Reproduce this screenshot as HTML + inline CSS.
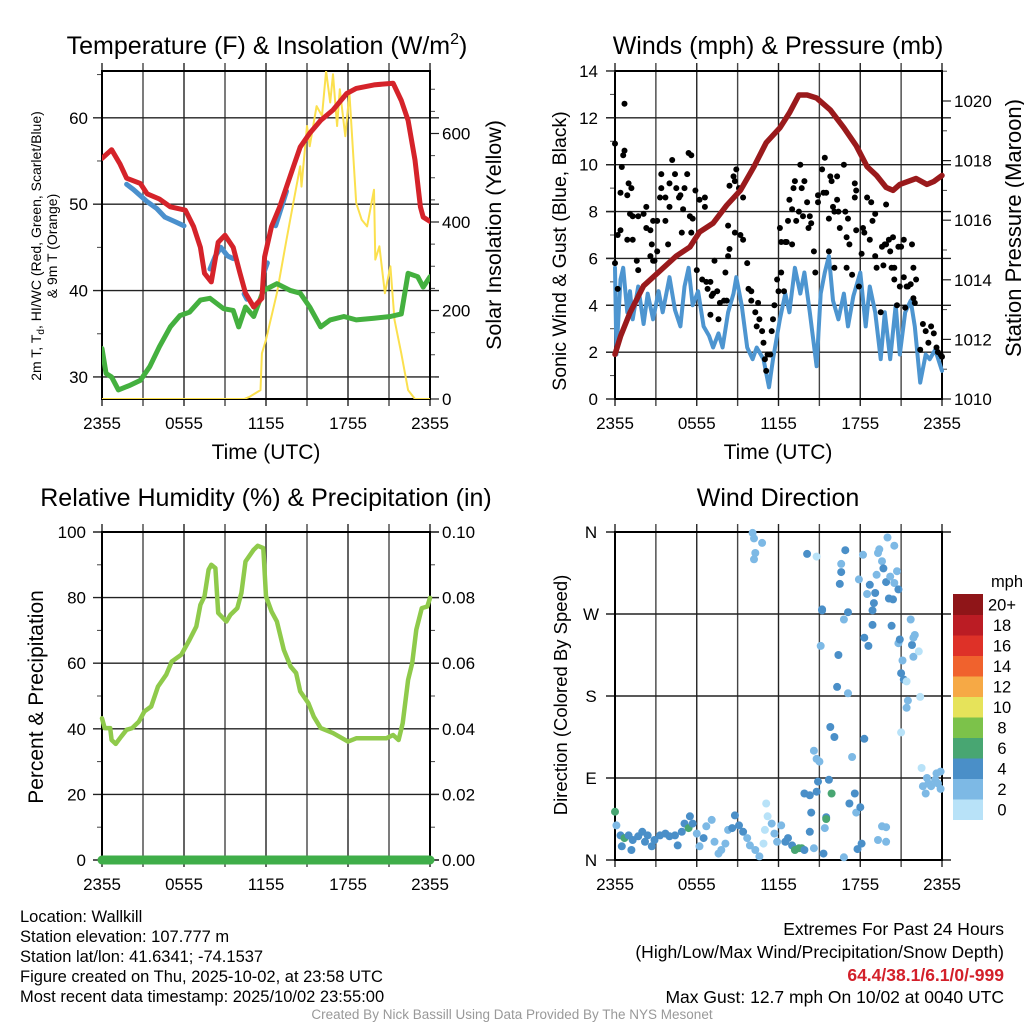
<!DOCTYPE html>
<html><head><meta charset="utf-8"><style>
html,body{margin:0;padding:0;background:#fff;}
svg{display:block;font-family:"Liberation Sans",sans-serif;}
</style></head><body>
<svg id="chart" width="1024" height="1024" viewBox="0 0 1024 1024" xmlns="http://www.w3.org/2000/svg">
<rect width="1024" height="1024" fill="#fff"/>
<g id="p1"></g>
<g id="p2"></g>
<g id="p3"></g>
<g id="p4"></g>
<text x="267" y="54" font-size="25" text-anchor="middle">Temperature (F) &amp; Insolation (W/m<tspan font-size="16" dy="-10">2</tspan><tspan dy="10">)</tspan></text>
<text x="778" y="54" font-size="25" text-anchor="middle">Winds (mph) &amp; Pressure (mb)</text>
<text x="266" y="506" font-size="25" text-anchor="middle">Relative Humidity (%) &amp; Precipitation (in)</text>
<text x="778" y="506" font-size="25" text-anchor="middle">Wind Direction</text>
<text x="266" y="459" font-size="21" text-anchor="middle">Time (UTC)</text>
<text x="778" y="459" font-size="21" text-anchor="middle">Time (UTC)</text>
<g transform="translate(41,246) rotate(-90)">
<text x="0" y="0" font-size="14" text-anchor="middle">2m T, T<tspan font-size="10" dy="3">d</tspan><tspan dy="-3">, HI/WC (Red, Green, Scarlet/Blue)</tspan></text>
<text x="0" y="16" font-size="14" text-anchor="middle">&amp; 9m T (Orange)</text></g>
<text transform="translate(501,235) rotate(-90)" font-size="21.5" text-anchor="middle">Solar Insolation (Yellow)</text>
<text transform="translate(566,251) rotate(-90)" font-size="19.5" text-anchor="middle">Sonic Wind &amp; Gust (Blue, Black)</text>
<text transform="translate(1021,228) rotate(-90)" font-size="22" text-anchor="middle">Station Pressure (Maroon)</text>
<text transform="translate(43,697) rotate(-90)" font-size="21" text-anchor="middle">Percent &amp; Precipitation</text>
<text transform="translate(567,695) rotate(-90)" font-size="18.5" text-anchor="middle">Direction (Colored By Speed)</text>
<g font-size="16.5">
<text x="20" y="922">Location: Wallkill</text>
<text x="20" y="942">Station elevation: 107.777 m</text>
<text x="20" y="962">Station lat/lon: 41.6341; -74.1537</text>
<text x="20" y="982">Figure created on Thu, 2025-10-02, at 23:58 UTC</text>
<text x="20" y="1002">Most recent data timestamp: 2025/10/02 23:55:00</text>
</g>
<g font-size="17.5" text-anchor="end">
<text x="1004" y="935">Extremes For Past 24 Hours</text>
<text x="1004" y="958">(High/Low/Max Wind/Precipitation/Snow Depth)</text>
<text x="1004" y="981" fill="#d3202a" font-weight="bold">64.4/38.1/6.1/0/-999</text>
<text x="1004" y="1003">Max Gust: 12.7 mph On 10/02 at 0040 UTC</text>
</g>
<text x="512" y="1019" font-size="13.5" fill="#999" text-anchor="middle">Created By Nick Bassill Using Data Provided By The NYS Mesonet</text>
</svg>
<script>
// ---------- data ----------
const xTickLabels = ["2355","0555","1155","1755","2355"];
const tempT = [0,0.7,1.3,1.8,2.8,3.3,4.2,5,6.1,6.7,7.2,7.5,8,8.5,9,9.6,10.1,10.5,11.1,11.7,11.9,12.4,13,13.5,14,14.5,15.2,16,16.9,17.9,18.6,19.9,21.3,21.9,22.4,22.9,23.3,23.5,24];
const tempV = [55.3,56.3,54.7,53,52.4,51.2,50.6,49.7,49.3,47.4,45,42,41,45.6,46.4,45,42,39.7,38.1,39.1,43.9,47.4,49.7,52,54.3,56.6,58.2,59.7,60.9,62.8,63.4,63.8,64,62,59.7,55.1,49.7,48.5,48];
const wcSegT = [[1.8,2.3,3.3,4,4.6,5.3,6],[7.9,8.3,8.7,9.2,9.6],[10.4,10.6],[11.9,12.1],[12.7,13,13.5]];
const wcSegV = [[52.3,51.7,50.3,49.5,48.5,48,47.5],[42.5,44,45,44,43.7],[39.6,39.0],[42.3,43.2],[47.5,49,51.5]];
const dewT = [0,0.3,0.7,1.2,2,2.8,3.5,4.2,5,5.7,6.4,7.2,7.9,8.9,9.6,10,10.5,11.1,11.8,12.8,13.8,14.5,15.2,16,16.7,17.7,18.6,19.9,21.1,21.9,22.4,23.1,23.5,24];
const dewV = [33.3,30.4,30,28.5,29,29.6,31.2,33.5,35.8,37.1,37.5,38.9,39.1,37.9,37.7,35.8,38.1,37,40,40.8,40,39.7,38.1,35.8,36.6,37,36.6,36.8,37,37.3,42,41.6,40.4,41.6];
const solarT = [0,10.4,10.8,11.6,11.7,12,12.8,13.5,14,14.5,14.6,15,15.2,15.7,16.1,16.4,16.7,16.9,17.2,17.4,17.8,18.1,18.6,19,19.4,19.9,20,20.3,20.7,21.1,21.4,21.9,22.4,22.9,24];
const solarV = [0,0,5,20,103,134,239,360,443,526,480,617,571,662,640,741,670,734,617,700,594,692,443,405,390,473,315,345,239,300,179,103,20,0,0];
const windT = [0,0.1,0.4,0.6,0.9,1.1,1.3,1.7,2.1,2.4,2.8,3.2,3.5,4,4.4,4.8,5.1,5.4,5.7,6.1,6.5,6.9,7.2,7.6,7.9,8.3,8.7,8.9,9.3,9.7,10.1,10.4,10.9,11.3,11.6,12.1,12.5,12.8,13.2,13.6,13.9,14.3,14.8,15.1,15.4,15.7,16,16.4,16.8,17.1,17.5,18,18.4,18.7,19.1,19.5,19.8,20.2,20.6,20.9,21.3,21.7,22,22.4,22.8,23.1,23.5,24];
const windV = [5.6,1.9,5.1,5.6,3.7,4.6,3.4,4.8,3.2,4.5,3.4,4.6,3.7,5.2,3.8,3.1,4.8,5.6,4,4.6,3.1,2.7,2.2,2.8,2.2,3.7,4.5,5.2,4,2.2,1.7,2.2,1.7,0.5,1.7,3.4,4.5,3.7,5.6,4.5,5.4,3.7,1.4,4.5,5.4,6.1,4.2,3.4,4.5,3.1,4.4,5.4,3.1,4.8,3.7,1.7,3.7,1.7,4,1.9,3.7,4.2,3.1,0.7,1.9,1.7,2.1,1.2];
const gustT = [0,0.7,0.6,0.7,0.5,0.4,0.9,1,1.2,0.2,0.4,0.9,1.1,1.3,1.7,2.1,2.3,1.3,1.6,1.7,2.3,2.6,2.7,2.6,2.8,2.9,3.1,2.8,3.1,3.7,3.3,3.4,3.4,3.7,3.9,4,4.2,4,4.4,4.5,4.7,4.8,4.9,5,5.1,5.3,5.4,5.6,5.5,5.6,5.7,5.9,6,6.2,6.4,6.6,6.6,6.7,6.8,7,7.1,7.2,7.3,7.5,7.7,7,7.6,8,8.2,8.1,8.3,8.4,8.3,8.4,8.7,8.8,8.9,8.8,9.1,9.4,9.2,9.4,9.7,9.8,10,10,10.5,10.3,10.4,10.6,10.8,10.9,11,11.1,11.2,11.4,11.5,11.6,11.7,11.9,12,12.1,12.2,12.2,12.4,12.5,12.6,12.7,12.8,13,13,13.1,13.2,13.3,13.5,13.6,13.7,13.8,13.9,14.1,14.2,14.3,14.4,14.6,14.7,14.9,14.9,15.2,15.3,15.4,15.5,15.7,15.7,15.8,15.9,16,16.1,16.1,16.3,16.3,16.4,16.5,16.8,16.9,17,17,17.1,17.2,17.4,17.6,17.6,17.7,17.7,17.9,18.1,18.2,18.3,18.5,18.7,18.8,18.9,19.1,19.1,19.2,19.5,19.6,19.7,19.8,19.9,19.9,20.1,20.2,20.3,20.4,20.5,20.5,20.7,20.8,20.9,21,21.2,21.2,21.3,21.4,21.5,21.7,21.8,21.9,21.9,22,22.1,22.4,22.6,22.8,23,23.2,23.4,23.6,23.7,23.9,24,0.2,0];
const gustV = [10.9,12.6,10.4,10.6,9.9,8.8,8.7,9.2,9.0,7.0,7.2,6.8,7.9,7.8,7.8,7.9,8.2,6.8,5.9,5.5,7.3,7.2,6.6,6.1,5.9,5.9,6.3,7.6,7.6,7.6,8.6,9.0,9.6,8.6,6.6,8.2,10.2,9.2,9.6,9.0,8.6,8.7,7.1,8.1,9.0,9.6,10.5,10.4,7.8,7.1,7.7,8.9,5.5,8.5,5.1,8.6,8.2,5.0,4.7,5,4.4,4.5,5.9,4.6,4.1,3.6,3.4,4.2,4.2,5.4,6.1,6.4,7.4,9.1,9.5,9.3,9.8,7.1,9.0,8.6,7.0,6.8,5.8,4.7,4.6,4.2,4.1,3.7,3.1,3.4,2.9,2.4,1.7,1.2,1.9,1.9,2.9,3.4,4.0,5.1,4.6,7.3,6.7,5.4,4.6,6.7,6.7,7.6,8.5,6.6,8.1,9.0,9.3,7.6,8.0,10.0,9.0,7.8,9.3,8.4,7.3,7.8,7.5,6.3,5.4,8.7,8.4,9.8,8.8,10.3,8.8,7.7,6.3,9.5,9.3,8.2,8.0,5.6,9.5,8.5,8.0,7.3,10.0,8.0,6.9,5.6,7.7,6.6,5.3,9.2,8.6,8.9,7.2,4.8,6.2,7.3,7.1,8.6,6.8,8.4,7.6,7.9,6.1,5.6,3.7,6.5,5.7,6.6,8.3,6.6,6.8,6.3,5.6,6.9,5.6,5.1,4.0,6.5,4.8,6.5,5.2,6.8,3.9,4.8,4.8,4.9,6.6,5.6,4.3,4.1,5.1,2.1,3.2,2.9,2.4,3.1,2.8,2.2,2.0,1.9,1.8,4.7,5.8];
const presT = [0,0.4,1.1,2.1,3.3,4.5,5.5,6.2,7.2,8.2,9.2,10.2,11.1,12.1,12.8,13.5,14.1,14.8,15.8,16.8,17.7,18.5,19.2,19.9,20.4,20.9,22.1,22.9,23.4,24];
const presV = [1011.5,1012.1,1012.9,1013.8,1014.3,1014.8,1015.1,1015.6,1015.9,1016.5,1017,1017.8,1018.6,1019.1,1019.6,1020.2,1020.2,1020.1,1019.7,1019.1,1018.5,1017.8,1017.5,1017.1,1017.0,1017.2,1017.4,1017.2,1017.3,1017.5];
const rhT = [0,0.2,0.6,0.7,1,1.4,1.8,2.2,2.7,3.1,3.6,4.1,4.7,5.1,5.8,6.4,6.9,7.2,7.5,7.8,8,8.3,8.5,9.1,9.4,9.9,10.2,10.5,11.1,11.4,11.8,12,12.4,12.8,13.3,13.8,14.2,14.5,15.1,15.5,16,16.9,18,18.6,19.9,20.8,21.3,21.7,22,22.4,22.7,23,23.4,23.8,24];
const rhV = [43.2,40.2,40.2,36.6,35.4,37.6,39.7,40.2,42.2,45.3,46.8,52.9,56.5,60.5,62.6,67.1,71.2,77.8,80.4,88.5,90,89,75.3,72.7,74.8,76.8,81.4,91,94.6,95.8,95.1,80.4,75.8,72.7,64.1,59,57,51.4,47.8,43.7,40.2,38.7,36.1,37.1,37.1,37.1,38.1,36.6,41.7,54.9,60,70.2,76.8,77.3,79.9];
const precipT = [0,24];
const precipV = [0,0];
const dirT = [0,0.1,0.4,0.5,0.7,1,1.2,1.3,1.7,2,2.2,2.4,2.7,2.9,3.3,3.7,4,4.4,4.6,4.9,5.1,5.4,5.5,5.7,6,6.2,6.5,6.7,7.1,7.3,7.6,7.8,8.1,8.3,8.6,8.8,9.1,9.4,9.7,9.9,10.3,10.6,10.9,11,11.1,11.2,11.5,11.7,11.9,12.2,12.5,12.7,13,13.2,13.5,13.7,13.9,14.3,14.6,13.9,14.3,14.4,14.6,14.8,15,14.9,14.8,15.2,15.1,15.3,15.4,15.5,15.5,15.7,15.8,15.9,16.1,16.3,16.4,16.5,16.6,16.6,16.9,16.8,16.8,17.1,17.1,17.2,17.4,17.6,17.7,17.9,17.8,18,18.1,18.2,18.3,18.3,18.6,18.5,18.7,18.9,18.9,19,19.1,19.2,19.3,19.4,19.3,19.6,19.6,19.7,19.9,20,19.9,19.9,20.1,20.2,20.3,20.4,20.5,20.5,20.7,20.8,20.8,20.9,21,21.1,21.2,21.4,21,21.4,21.5,21.7,21.8,21.9,21.9,22,22.3,22.4,22.5,22.6,22.8,22.9,23,23.2,23.5,23.6,23.7,23.9,23.9,10.1,10.2,10.3,10.2,10.8,14.1,14.8,15.2];
const dirV = [53,38,27,15,24,27,11,22,26,31,20,27,15,22,27,29,26,27,16,31,40,35,48,40,29,15,24,37,44,20,7,11,18,33,35,49,38,31,24,16,11,4,18,33,62,48,40,29,20,38,20,24,16,11,13,13,11,31,13,73,71,52,120,111,108,86,75,275,235,7,35,47,45,88,146,73,135,190,225,303,316,325,340,3,264,272,183,62,113,73,52,308,12,58,18,335,133,244,235,292,302,258,274,282,293,313,337,341,22,37,328,320,305,354,20,36,287,311,257,286,304,345,317,297,238,242,205,219,198,196,140,167,175,264,236,223,244,247,229,179,101,81,73,90,84,81,88,95,84,97,78,359,353,337,330,348,336,333,274];
const dirSpd = [6,2,4,4,6,4,4,4,4,4,4,4,4,4,4,4,4,4,4,4,4,6,4,4,2,2,4,2,2,2,2,2,2,2,4,4,4,4,2,2,2,2,0,0,0,0,2,2,2,2,4,4,4,6,6,6,4,4,2,4,4,4,2,2,2,4,4,4,2,4,2,4,6,4,4,6,4,4,4,4,4,2,4,2,2,4,2,4,2,4,2,2,4,4,4,2,4,4,4,2,4,4,4,4,4,2,2,2,2,2,2,4,4,2,2,2,4,2,4,4,2,2,2,4,2,4,4,2,4,0,0,2,2,2,4,2,2,2,0,0,0,2,2,2,2,2,2,2,2,2,2,2,2,2,2,2,4,0,4];
const cbLabels = ["0","2","4","6","8","10","12","14","16","18","20+"];
const cbColors = ["#b8e2f8","#7db9e5","#4a8fc8","#48a672","#7cc24a","#e6e35a","#f6a945","#f0622d","#de3128","#bb1c24","#8f1518"];

// ---------- helpers ----------
const NS="http://www.w3.org/2000/svg";
function mk(parent,tag,attrs){const e=document.createElementNS(NS,tag);for(const k in attrs)e.setAttribute(k,attrs[k]);parent.appendChild(e);return e;}
function pathFrom(ts,vs,fx,fy){return ts.map((t,i)=>(i?"L":"M")+fx(t).toFixed(1)+","+fy(vs[i]).toFixed(1)).join("");}

function frame(g,L,R,T,B,hLines,minorL,ticksR,minorR){
  for(let i=0;i<=8;i++){const x=L+(R-L)*i/8;
    const ln=mk(g,"line",{x1:x,x2:x,y1:T-8,y2:B+7,stroke:i%2?"#444":"#222","stroke-width":1.4});
    
    }
  hLines.forEach(y=>{const ln=mk(g,"line",{x1:L-9,x2:R+9,y1:y,y2:y,stroke:"#222","stroke-width":1.4});
    
    });
  minorL.forEach(y=>{mk(g,"line",{x1:L-5,x2:L,y1:y,y2:y,stroke:"#444","stroke-width":1});});
  ticksR.forEach(y=>{mk(g,"line",{x1:R,x2:R+9,y1:y,y2:y,stroke:"#222","stroke-width":1.2});});
  minorR.forEach(y=>{mk(g,"line",{x1:R,x2:R+5,y1:y,y2:y,stroke:"#444","stroke-width":1});});
  const b=mk(g,"rect",{x:L,y:T,width:R-L,height:B-T,fill:"none",stroke:"#000","stroke-width":2});
  
  
  xTickLabels.forEach((s,i)=>{const t=mk(g,"text",{x:L+(R-L)*i/4,y:B+30,"font-size":17,"text-anchor":"middle"});t.textContent=s;
    
    });
}
function label(g,x,y,s,anchor){const t=mk(g,"text",{x:x,y:y+6,"font-size":17,"text-anchor":anchor});t.textContent=s;
  
  return t;}
function line(g,ts,vs,fx,fy,color,w,name){const p=mk(g,"path",{d:pathFrom(ts,vs,fx,fy),fill:"none",stroke:color,"stroke-width":w,"stroke-linejoin":"round","stroke-linecap":"round"});
  
  return p;}

// ---------- panel 1 ----------
(function(){
  const g=document.getElementById("p1");const L=102,R=430,T=71,B=399;
  const x=t=>L+t*(R-L)/24, y=v=>B-(v-27.45)*8.64, yr=v=>B-v*0.4425;
  const maj=[30,40,50,60], mn=[35,45,55,65];
  const rmaj=[0,200,400,600], rmn=[];for(let v=50;v<=740;v+=50)if(v%200)rmn.push(v);
  frame(g,L,R,T,B,maj.map(y),mn.map(y),rmaj.map(yr),rmn.map(yr));
  maj.forEach(v=>label(g,L-14,y(v),String(v),"end"));
  rmaj.forEach(v=>label(g,R+12,yr(v),String(v),"start"));
  const clip=mk(g,"clipPath",{id:"c1"});mk(clip,"rect",{x:L,y:T,width:R-L,height:B-T});
  const d=mk(g,"g",{"clip-path":"url(#c1)"});
  line(d,solarT,solarV,x,yr,"#fbe04e",2,"solar-insolation-line");
  line(d,dewT,dewV,x,y,"#44b03f",5,"dewpoint-line");
  wcSegT.forEach((ts,i)=>line(d,ts,wcSegV[i],x,y,"#4a90cd",5,"wind-chill-line"));
  line(d,tempT,tempV,x,y,"#d5232a",5,"temperature-line");
})();

// ---------- panel 2 ----------
(function(){
  const g=document.getElementById("p2");const L=615,R=942,T=71,B=399;
  const x=t=>L+t*(R-L)/24, y=v=>B-v*23.43, yp=p=>B-(p-1010)*29.8;
  const maj=[0,2,4,6,8,10,12,14], mn=[1,3,5,7,9,11,13];
  const rmaj=[1010,1012,1014,1016,1018,1020], rmn=[1011,1013,1015,1017,1019,1021];
  frame(g,L,R,T,B,maj.filter(v=>v>0&&v<14).map(y),mn.map(y),rmaj.map(yp),rmn.map(yp));
  maj.forEach(v=>{mk(g,"line",{x1:L-9,x2:L,y1:y(v),y2:y(v),stroke:"#222","stroke-width":1.4});label(g,L-17,y(v),String(v),"end");});
  rmaj.forEach(v=>label(g,R+12,yp(v),String(v),"start"));
  const clip=mk(g,"clipPath",{id:"c2"});mk(clip,"rect",{x:L-3,y:T,width:R-L+6,height:B-T});
  const d=mk(g,"g",{"clip-path":"url(#c2)"});
  line(d,windT,windV,x,y,"#4d95d0",4,"sonic-wind-line");
  gustT.forEach((t,i)=>{const c=mk(d,"circle",{cx:x(t).toFixed(1),cy:y(gustV[i]).toFixed(1),r:3,fill:"#000"});
    
    });
  line(d,presT,presV,x,yp,"#9a1a1c",5.5,"pressure-line");
})();

// ---------- panel 3 ----------
(function(){
  const g=document.getElementById("p3");const L=102,R=430,T=532,B=860;
  const x=t=>L+t*(R-L)/24, y=v=>B-v*3.28, yr=v=>B-v*3280;
  const maj=[0,20,40,60,80,100], mn=[10,30,50,70,90];
  const rmaj=[0,0.02,0.04,0.06,0.08,0.1], rmn=[0.01,0.03,0.05,0.07,0.09];
  frame(g,L,R,T,B,maj.map(y),mn.map(y),rmaj.map(yr),rmn.map(yr));
  maj.forEach(v=>label(g,L-16,y(v),String(v),"end"));
  rmaj.forEach(v=>label(g,R+12,yr(v),v.toFixed(2),"start"));
  const clip=mk(g,"clipPath",{id:"c3"});mk(clip,"rect",{x:L-6,y:T,width:R-L+12,height:B-T+8});
  const d=mk(g,"g",{"clip-path":"url(#c3)"});
  line(d,rhT,rhV,x,y,"#8fca4b",4.5,"relative-humidity-line");
  line(d,precipT,precipV,x,yr,"#3fae49",9,"precipitation-line");
})();

// ---------- panel 4 ----------
(function(){
  const g=document.getElementById("p4");const L=615,R=942,T=532,B=860;
  const x=t=>L+t*(R-L)/24, y=v=>B-v*(B-T)/360;
  const maj=[0,90,180,270,360], names=["N","E","S","W","N"];
  frame(g,L,R,T,B,maj.map(y),[],[],[]);
  maj.forEach((v,i)=>label(g,L-24,y(v),names[i],"middle"));
  dirT.forEach((t,i)=>{const c=mk(g,"circle",{cx:x(t).toFixed(1),cy:y(dirV[i]).toFixed(1),r:4,fill:cbColors[Math.min(10,Math.round(dirSpd[i]/2))]});
    
    });
  const cb=mk(g,"g",{});
  
  
  const top=594,h=20.5;
  cbColors.forEach((c,i)=>{const yy=top+(10-i)*h;mk(cb,"rect",{x:953,y:yy.toFixed(1),width:30,height:(h+0.5).toFixed(1),fill:c});
    const t=mk(cb,"text",{x:1002,y:(yy+h/2+6).toFixed(1),"font-size":16.5,"text-anchor":"middle"});t.textContent=cbLabels[i];
    
    });
  const u=mk(cb,"text",{x:1007,y:587,"font-size":16.5,"text-anchor":"middle"});u.textContent="mph";
  
  
})();
</script>
</body></html>
